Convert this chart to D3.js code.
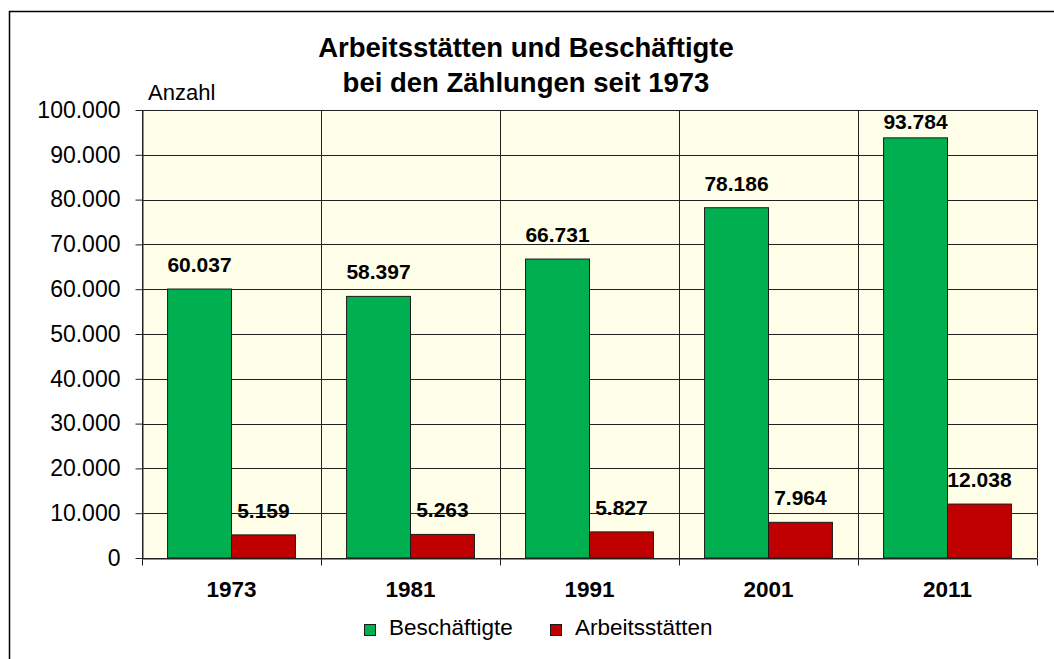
<!DOCTYPE html>
<html>
<head>
<meta charset="utf-8">
<script src="https://cdn.jsdelivr.net/npm/d3@7"></script>
<style>
  body { margin: 0; background: #fff; }
  text { font-family: "Liberation Sans", Arial, sans-serif; fill: #000; }
</style>
</head>
<body>
<div id="chart"></div>
<script>
// data
var years = ["1973", "1981", "1991", "2001", "2011"];
var beschaeftigte = [60037, 58397, 66731, 78186, 93784];
var arbeitsstaetten = [5159, 5263, 5827, 7964, 12038];
var seriesNames = ["Beschäftigte", "Arbeitsstätten"];
var seriesColors = ["#00b050", "#c00000"];
var yTicks = [0, 10000, 20000, 30000, 40000, 50000, 60000, 70000, 80000, 90000, 100000];

var de = d3.formatLocale({ decimal: ",", thousands: ".", grouping: [3], currency: ["", " €"] });
var fmt = de.format(",d");

var width = 1054, height = 659;
var plotLeft = 142, plotRight = 1037, plotTop = 110, plotBottom = 558;

var svg = d3.select("#chart").append("svg")
    .attr("width", width)
    .attr("height", height);

// outer frame (only left and top edges are inside the picture)
svg.append("rect")
    .attr("x", 9.5).attr("y", 11.5)
    .attr("width", 1200).attr("height", 800)
    .attr("fill", "none")
    .attr("stroke", "#000")
    .attr("stroke-width", 1.5);

var x = d3.scaleBand().domain(years).range([plotLeft, plotRight]).padding(0);
var xs = d3.scaleBand().domain(seriesNames).range([0, x.bandwidth()]).paddingInner(0).paddingOuter(0.4);
var y = d3.scaleLinear().domain([0, 100000]).range([plotBottom, plotTop]);

// plot background
svg.append("rect")
    .attr("x", plotLeft).attr("y", plotTop)
    .attr("width", plotRight - plotLeft).attr("height", plotBottom - plotTop)
    .attr("fill", "#ffffe9");

// horizontal gridlines
svg.append("g").selectAll("line")
    .data(yTicks)
    .enter().append("line")
    .attr("x1", plotLeft).attr("x2", plotRight)
    .attr("y1", function(d) { return Math.round(y(d)) + 0.5; })
    .attr("y2", function(d) { return Math.round(y(d)) + 0.5; })
    .attr("stroke", "#222");

// vertical gridlines at category boundaries
var bounds = years.map(function(d) { return x(d); }).concat([plotRight]);
svg.append("g").selectAll("line")
    .data(bounds)
    .enter().append("line")
    .attr("x1", function(d) { return Math.round(d) + 0.5; })
    .attr("x2", function(d) { return Math.round(d) + 0.5; })
    .attr("y1", plotTop).attr("y2", plotBottom)
    .attr("stroke", "#222");

// bars
var rows = years.map(function(yr, i) {
    return { year: yr, values: [beschaeftigte[i], arbeitsstaetten[i]] };
});

var groups = svg.append("g").selectAll("g")
    .data(rows)
    .enter().append("g")
    .attr("transform", function(d) { return "translate(" + x(d.year) + ",0)"; });

function items(d) {
    return d.values.map(function(v, i) { return { name: seriesNames[i], value: v, i: i }; });
}

groups.selectAll("rect")
    .data(items)
    .enter().append("rect")
    .attr("x", function(d) { return xs(d.name); })
    .attr("y", function(d) { return y(d.value); })
    .attr("width", xs.bandwidth())
    .attr("height", function(d) { return plotBottom - y(d.value); })
    .attr("fill", function(d) { return seriesColors[d.i]; })
    .attr("stroke", "#1a1a1a")
    .attr("stroke-width", 1);

groups.selectAll("text")
    .data(items)
    .enter().append("text")
    .attr("x", function(d) { return xs(d.name) + xs.bandwidth() / 2; })
    .attr("y", function(d) { return Math.max(y(d.value) - 17, plotTop + 19); })
    .attr("text-anchor", "middle")
    .style("font-size", "21px")
    .style("font-weight", "bold")
    .text(function(d) { return fmt(d.value); });

// y axis
var yAxis = svg.append("g")
    .attr("transform", "translate(" + (plotLeft + 0.5) + ",0)")
    .call(d3.axisLeft(y).tickValues(yTicks).tickFormat(fmt).tickSizeInner(7).tickSizeOuter(0).tickPadding(15));
yAxis.select(".domain").attr("stroke", "#222");
yAxis.selectAll(".tick line").attr("stroke", "#222");
yAxis.selectAll(".tick text")
    .style("font-size", "23px")
    .style("font-family", "'Liberation Sans', Arial, sans-serif");

// x axis
var xAxis = svg.append("g")
    .attr("transform", "translate(0," + (plotBottom + 0.5) + ")")
    .call(d3.axisBottom(x).tickSize(0).tickPadding(0));
xAxis.select(".domain").attr("stroke", "#222");
xAxis.selectAll(".tick text")
    .attr("y", 38)
    .attr("dy", 0)
    .style("font-size", "22.5px")
    .style("font-weight", "bold")
    .style("font-family", "'Liberation Sans', Arial, sans-serif");
xAxis.append("g").selectAll("line")
    .data(bounds)
    .enter().append("line")
    .attr("x1", function(d) { return Math.round(d) + 0.5; })
    .attr("x2", function(d) { return Math.round(d) + 0.5; })
    .attr("y1", 0).attr("y2", 7)
    .attr("stroke", "#222");

// title
svg.append("text")
    .attr("x", 526).attr("y", 57)
    .attr("text-anchor", "middle")
    .style("font-size", "27.5px")
    .style("font-weight", "bold")
    .text("Arbeitsstätten und Beschäftigte");
svg.append("text")
    .attr("x", 526).attr("y", 92)
    .attr("text-anchor", "middle")
    .style("font-size", "27.5px")
    .style("font-weight", "bold")
    .text("bei den Zählungen seit 1973");

// unit label
svg.append("text")
    .attr("x", 148).attr("y", 100)
    .style("font-size", "22px")
    .text("Anzahl");

// legend
var legendX = [364, 550];
var legend = svg.append("g").selectAll("g")
    .data(seriesNames)
    .enter().append("g")
    .attr("transform", function(d, i) { return "translate(" + legendX[i] + ",624)"; });
legend.append("rect")
    .attr("x", 0.5).attr("y", 0.5)
    .attr("width", 11).attr("height", 11)
    .attr("fill", function(d, i) { return seriesColors[i]; })
    .attr("stroke", "#1a1a1a");
legend.append("text")
    .attr("x", 25).attr("y", 11)
    .style("font-size", "22.5px")
    .text(function(d) { return d; });
</script>
</body>
</html>
